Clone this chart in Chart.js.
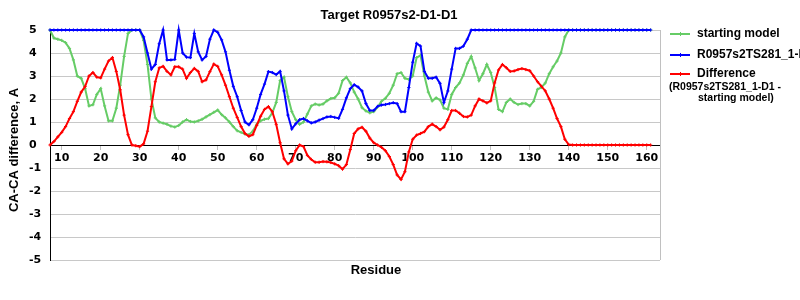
<!DOCTYPE html>
<html>
<head>
<meta charset="utf-8">
<script src="https://cdn.jsdelivr.net/npm/chart.js@4.4.1/dist/chart.umd.min.js"></script>
<style>
  body { margin: 0; background: #fff; }
  #wrap { width: 800px; height: 300px; }
</style>
</head>
<body>
<div id="wrap"><canvas id="chart" width="800" height="300"></canvas></div>
<script>
const residues = [
  7, 8, 9, 10, 11, 12, 13, 14, 15, 16, 17, 18, 19, 20, 21, 22, 23, 24, 25, 26,
  27, 28, 29, 30, 31, 32, 33, 34, 35, 36, 37, 38, 39, 40, 41, 42, 43, 44, 45, 46,
  47, 48, 49, 50, 51, 52, 53, 54, 55, 56, 57, 58, 59, 60, 61, 62, 63, 64, 65, 66,
  67, 68, 69, 70, 71, 72, 73, 74, 75, 76, 77, 78, 79, 80, 81, 82, 83, 84, 85, 86,
  87, 88, 89, 90, 91, 92, 93, 94, 95, 96, 97, 98, 99, 100, 101, 102, 103, 104, 105, 106,
  107, 108, 109, 110, 111, 112, 113, 114, 115, 116, 117, 118, 119, 120, 121, 122, 123, 124, 125, 126,
  127, 128, 129, 130, 131, 132, 133, 134, 135, 136, 137, 138, 139, 140, 141, 142, 143, 144, 145, 146,
  147, 148, 149, 150, 151, 152, 153, 154, 155, 156, 157, 158, 159, 160, 161
];

const startingModel = [
  5.0, 4.65, 4.6, 4.55, 4.45, 4.2, 3.7, 3.0, 2.9, 2.45,
  1.7, 1.75, 2.2, 2.45, 1.7, 1.05, 1.05, 1.6, 2.6, 3.85,
  4.85, 5.0, 5.0, 5.0, 4.55, 3.5, 2.0, 1.18, 1.0, 0.95,
  0.9, 0.82, 0.78, 0.85, 1.0, 1.1, 1.02, 1.0, 1.05, 1.12,
  1.22, 1.32, 1.42, 1.52, 1.32, 1.18, 1.0, 0.8, 0.62, 0.55,
  0.48, 0.45, 0.6, 0.9, 1.05, 1.12, 1.15, 1.4, 1.85, 2.8,
  2.95, 2.1, 1.45, 1.1, 0.9, 1.0, 1.35, 1.7, 1.78, 1.74,
  1.78, 1.92, 2.02, 2.05, 2.25, 2.8, 2.95, 2.7, 2.3, 2.0,
  1.62, 1.48, 1.4, 1.45, 1.65, 1.9, 2.03, 2.25, 2.6, 3.1,
  3.15, 2.9, 2.85, 3.0, 3.8, 3.9, 3.0, 2.3, 1.92, 2.05,
  1.96, 1.6, 1.55, 2.2, 2.5, 2.7, 3.05, 3.55, 3.85, 3.35,
  2.8, 3.1, 3.5, 3.15, 2.5, 1.55, 1.45, 1.85, 2.0, 1.85,
  1.76, 1.8, 1.8, 1.7, 1.9, 2.42, 2.5, 2.7, 3.1, 3.4,
  3.65, 4.0, 4.7, 5, 5, 5, 5, 5, 5, 5,
  5, 5, 5, 5, 5, 5, 5, 5, 5, 5,
  5, 5, 5, 5, 5
];

const model281 = [
  5, 5, 5, 5, 5, 5, 5, 5, 5, 5,
  5, 5, 5, 5, 5, 5, 5, 5, 5, 5,
  5, 5, 5, 5,
  4.7, 4.0, 3.3, 3.5, 4.4, 5.0, 3.7, 3.7, 3.72, 5.0,
  4.0, 3.82, 3.8, 4.85, 4.05, 3.7, 3.85, 4.6, 5.0, 4.9,
  4.57, 4.05, 3.25, 2.55, 2.1, 1.5, 1.0, 0.88, 1.1, 1.6,
  2.2, 2.65, 3.19, 3.15, 3.06, 3.2, 2.35, 1.3, 0.7, 0.92,
  1.1, 1.15, 1.05, 0.96, 1.0, 1.08, 1.15, 1.22, 1.24, 1.2,
  1.16, 1.55, 2.05, 2.45, 2.62, 2.52, 2.35, 1.8, 1.5, 1.5,
  1.68, 1.74, 1.76, 1.8, 1.84, 1.8, 1.45, 1.45, 2.5, 3.6,
  4.42, 4.3, 3.2, 2.9, 2.9, 2.95, 2.68, 1.85, 2.35, 3.3,
  4.2, 4.2, 4.3, 4.6, 5.0,
  5, 5, 5, 5, 5, 5, 5, 5, 5, 5,
  5, 5, 5, 5, 5, 5, 5, 5, 5, 5,
  5, 5, 5, 5, 5, 5, 5, 5, 5, 5,
  5, 5, 5, 5, 5, 5, 5, 5, 5, 5,
  5, 5, 5, 5, 5, 5
];

const difference = [
  0, 0.15, 0.35, 0.55, 0.8, 1.15, 1.45, 1.9, 2.3, 2.54,
  3.0, 3.15, 2.95, 2.92, 3.3, 3.65, 3.8, 3.2, 2.4, 1.3,
  0.45, 0.0, -0.03, -0.07, 0.05, 0.6, 1.67, 2.75, 3.35, 3.42,
  3.2, 3.05, 3.4, 3.4, 3.3, 2.9, 3.15, 3.33, 3.2, 2.75,
  2.83, 3.19, 3.52, 3.42, 3.05, 2.6, 2.1, 1.6, 1.2, 0.8,
  0.5, 0.38, 0.45, 0.85, 1.25, 1.55, 1.67, 1.45, 0.9, 0.1,
  -0.6, -0.82, -0.7, -0.25, 0.0, -0.07, -0.45, -0.63, -0.75, -0.75,
  -0.72, -0.73, -0.76, -0.82, -0.9, -1.05, -0.85, -0.2, 0.5, 0.7,
  0.77, 0.6, 0.3, 0.1, 0.0, -0.1, -0.25, -0.5, -0.85, -1.3,
  -1.5, -1.16, -0.3, 0.25, 0.43, 0.5, 0.58, 0.8, 0.91, 0.8,
  0.66, 0.78, 1.1, 1.5, 1.5, 1.38, 1.24, 1.22, 1.3, 1.7,
  2.0, 1.92, 1.83, 1.92, 2.7, 3.26, 3.5, 3.36, 3.2, 3.22,
  3.28, 3.32, 3.28, 3.23, 3.0, 2.75, 2.55, 2.35, 2.0, 1.6,
  1.15, 0.8, 0.25, 0.02, 0, 0, 0, 0, 0, 0,
  0, 0, 0, 0, 0, 0, 0, 0, 0, 0,
  0, 0, 0, 0, 0
];

const xTicks = [10, 20, 30, 40, 50, 60, 70, 80, 90, 100, 110, 120, 130, 140, 150, 160];

const chartTitle = "Target R0957s2-D1-D1";
const xTitle = "Residue";
const yTitle = "CA-CA difference, A";

const GREEN = "#66cc66", BLUE = "#0000ff", RED = "#ff0000";
const legendRows = [
  { color: GREEN, text: "starting model", y: 34 },
  { color: BLUE, text: "R0957s2TS281_1-D1", y: 55 },
  { color: RED, text: "Difference", y: 74 }
];
const legendNote = ["(R0957s2TS281_1-D1 -", "starting model)"];

const tickFont = { family: "'DejaVu Sans', Verdana, sans-serif", weight: "bold", size: 11 };

const textPlugin = {
  id: "texts",
  beforeDatasetsDraw(chart) {
    const { ctx, chartArea: a } = chart;
    ctx.save();
    ctx.strokeStyle = "#c0c0c0";
    ctx.lineWidth = 1;
    ctx.beginPath();
    ctx.moveTo(a.right + 0.5, a.top);
    ctx.lineTo(a.right + 0.5, a.bottom);
    ctx.stroke();
    ctx.restore();
  },
  afterDraw(chart) {
    const ctx = chart.ctx;
    ctx.save();
    ctx.fillStyle = "#000";
    ctx.textBaseline = "middle";
    ctx.textAlign = "center";
    ctx.font = "bold 13px 'Liberation Sans', Arial, sans-serif";
    ctx.fillText(chartTitle, 389, 15);
    ctx.fillText(xTitle, 376, 270);
    ctx.save();
    ctx.translate(14, 150);
    ctx.rotate(-Math.PI / 2);
    ctx.fillText(yTitle, 0, 0);
    ctx.restore();

    // legend
    ctx.textAlign = "left";
    ctx.font = "bold 12px 'Liberation Sans', Arial, sans-serif";
    legendRows.forEach(r => {
      ctx.strokeStyle = r.color;
      ctx.lineWidth = 2;
      ctx.beginPath();
      ctx.moveTo(670, r.y);
      ctx.lineTo(690, r.y);
      ctx.stroke();
      ctx.lineWidth = 1;
      ctx.beginPath();
      ctx.moveTo(680.5, r.y - 2);
      ctx.lineTo(680.5, r.y + 2);
      ctx.stroke();
      ctx.fillText(r.text, 697, r.y);
    });
    ctx.font = "bold 10.5px 'Liberation Sans', Arial, sans-serif";
    ctx.fillText(legendNote[0], 669, 87);
    ctx.fillText(legendNote[1], 698, 98);
    ctx.restore();
  }
};

function series(label, data, color, order) {
  return {
    label, data, order,
    borderColor: color,
    backgroundColor: color,
    borderWidth: 2,
    pointStyle: "cross",
    pointRadius: 1.6,
    pointBorderWidth: 1,
    pointBorderColor: color,
    tension: 0,
    clip: false
  };
}

const ctx = document.getElementById("chart").getContext("2d");
const chart = new Chart(ctx, {
  type: "line",
  data: {
    labels: residues,
    datasets: [
      series("starting model", startingModel, GREEN, 2),
      series("R0957s2TS281_1-D1", model281, BLUE, 1),
      series("Difference", difference, RED, 0)
    ]
  },
  options: {
    responsive: false,
    animation: false,
    layout: { padding: { left: 29, right: 140, top: 30, bottom: 40 } },
    plugins: { legend: { display: false }, tooltip: { enabled: false } },
    scales: {
      x: {
        type: "linear",
        min: 7,
        max: 163.4,
        position: { y: 0 },
        afterBuildTicks: s => { s.ticks = xTicks.map(v => ({ value: v })); },
        grid: { drawOnChartArea: false, drawTicks: true, tickLength: 4, color: "#c0c0c0" },
        border: { color: "#000", width: 1 },
        ticks: { font: tickFont, color: "#000", padding: 3, maxRotation: 0, autoSkip: false }
      },
      y: {
        min: -5,
        max: 5,
        afterFit: s => { s.width = 21; },
        grid: { color: "#c8c8c8", drawTicks: false },
        border: { color: "#000", width: 1 },
        ticks: { stepSize: 1, crossAlign: "far", font: tickFont, color: "#000" }
      }
    }
  },
  plugins: [textPlugin]
});
</script>
</body>
</html>
